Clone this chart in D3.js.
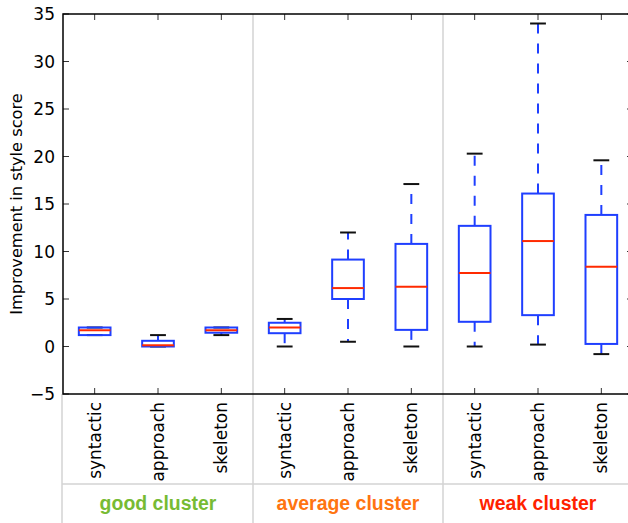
<!DOCTYPE html>
<html>
<head>
<meta charset="utf-8">
<script src="https://cdn.jsdelivr.net/npm/d3@7"></script>
<style>
  body { margin: 0; background: #fff; }
  text { font-family: "DejaVu Sans", sans-serif; }
</style>
</head>
<body>
<svg class="main-graphic"></svg>
<script>
// box stats, one entry per box
var categories = ["syntactic", "approach", "skeleton", "syntactic", "approach", "skeleton", "syntactic", "approach", "skeleton"];
var lows    = [1.2, 0.0, 1.2, 0.0, 0.5, 0.0, 0.0, 0.2, -0.8];
var q1s     = [1.2, 0.0, 1.45, 1.4, 5.0, 1.75, 2.6, 3.3, 0.27];
var medians = [1.7, 0.13, 1.7, 2.0, 6.15, 6.3, 7.75, 11.1, 8.4];
var q3s     = [2.0, 0.6, 2.0, 2.5, 9.15, 10.8, 12.7, 16.1, 13.85];
var highs   = [2.0, 1.2, 2.0, 2.9, 12.0, 17.1, 20.3, 34.0, 19.6];

var groups = ["good cluster", "average cluster", "weak cluster"];
var groupColors = ["#77bb33", "#ff7411", "#ff2200"];
var yTicks = [-5, 0, 5, 10, 15, 20, 25, 30, 35];

var W = 628, H = 523;
var margin = {top: 14, left: 63};
var plotW = 570, plotH = 380;

var svg = d3.select(".main-graphic")
    .attr("width", W)
    .attr("height", H);

var x = d3.scaleLinear().domain([0.5, 9.5]).range([margin.left, margin.left + plotW]);
var y = d3.scaleLinear().domain([-5, 35]).range([margin.top + plotH, margin.top]);

var boxes = categories.map(function(c, i) {
  return {pos: i + 1, lo: lows[i], q1: q1s[i], med: medians[i], q3: q3s[i], hi: highs[i]};
});

var blue = "#1f3fff", red = "#ff2a00", sep = "#d3d3d3";

// separators between the clusters + the label strip under the axis
var x0 = x(0.5), x1 = x(9.5), yb = y(-5);
[3.5, 6.5].forEach(function(p) {
  svg.append("line")
    .attr("x1", x(p)).attr("x2", x(p))
    .attr("y1", y(35)).attr("y2", H)
    .attr("stroke", sep).attr("stroke-width", 1.5);
});
svg.append("line")
  .attr("x1", x0 - 1).attr("x2", x0 - 1)
  .attr("y1", yb).attr("y2", H)
  .attr("stroke", sep).attr("stroke-width", 1.5);
svg.append("line")
  .attr("x1", x0 - 1).attr("x2", W)
  .attr("y1", 484).attr("y2", 484)
  .attr("stroke", sep).attr("stroke-width", 1.5);

svg.selectAll(".group-label")
    .data(groups)
  .enter().append("text")
    .attr("class", "group-label")
    .attr("transform", function(d, i) { return "translate(" + x(i * 3 + 2) + ",510) scale(0.95,1)"; })
    .attr("text-anchor", "middle")
    .style("font-family", "'Liberation Sans', Arial, sans-serif")
    .style("font-weight", "bold")
    .style("font-size", "20.5px")
    .attr("fill", function(d, i) { return groupColors[i]; })
    .text(function(d) { return d; });

// ticks (inward, on all four sides)
var tl = 6;
var tickG = svg.append("g").attr("stroke", "#333").attr("stroke-width", 1);
yTicks.forEach(function(t) {
  tickG.append("line").attr("x1", x0).attr("x2", x0 + tl).attr("y1", y(t)).attr("y2", y(t));
  tickG.append("line").attr("x1", x1).attr("x2", x1 - tl).attr("y1", y(t)).attr("y2", y(t));
});
boxes.forEach(function(b) {
  tickG.append("line").attr("x1", x(b.pos)).attr("x2", x(b.pos)).attr("y1", y(35)).attr("y2", y(35) + tl);
  tickG.append("line").attr("x1", x(b.pos)).attr("x2", x(b.pos)).attr("y1", yb).attr("y2", yb - tl);
});

// boxes: whiskers, caps, box, median
var bw = x(1.25) - x(1), cw = x(1.125) - x(1);
var g = svg.append("g");
boxes.forEach(function(b) {
  var cx = x(b.pos);
  [[b.q3, b.hi], [b.q1, b.lo]].forEach(function(w) {
    if (w[0] === w[1]) return;
    g.append("line")
      .attr("x1", cx).attr("x2", cx)
      .attr("y1", y(w[0])).attr("y2", y(w[1]))
      .attr("stroke", blue).attr("stroke-width", 2)
      .attr("stroke-dasharray", "10,10");
  });
  [b.lo, b.hi].forEach(function(v) {
    g.append("line")
      .attr("x1", cx - cw).attr("x2", cx + cw)
      .attr("y1", y(v)).attr("y2", y(v))
      .attr("stroke", "#111").attr("stroke-width", 2);
  });
  g.append("rect")
    .attr("x", cx - bw).attr("y", y(b.q3))
    .attr("width", 2 * bw).attr("height", y(b.q1) - y(b.q3))
    .attr("fill", "none").attr("stroke", blue).attr("stroke-width", 2);
  g.append("line")
    .attr("x1", cx - bw).attr("x2", cx + bw)
    .attr("y1", y(b.med)).attr("y2", y(b.med))
    .attr("stroke", red).attr("stroke-width", 2);
});

// frame (right spine falls just off the canvas)
svg.append("rect")
  .attr("x", x0).attr("y", y(35))
  .attr("width", plotW).attr("height", plotH)
  .attr("fill", "none").attr("stroke", "#000").attr("stroke-width", 1.5);

// tick labels
svg.selectAll(".ytick")
    .data(yTicks)
  .enter().append("text")
    .attr("class", "ytick")
    .attr("x", x0 - 8)
    .attr("y", function(d) { return y(d); })
    .attr("dy", "0.36em")
    .attr("text-anchor", "end")
    .style("font-size", "17px")
    .text(function(d) { return d < 0 ? "\u2212" + Math.abs(d) : d; });

svg.selectAll(".xtick")
    .data(boxes)
  .enter().append("text")
    .attr("class", "xtick")
    .attr("transform", function(d) { return "translate(" + x(d.pos) + "," + (yb + 8) + ") rotate(-90)"; })
    .attr("dy", "0.36em")
    .attr("text-anchor", "end")
    .style("font-size", "17px")
    .text(function(d, i) { return categories[i]; });

svg.append("text")
  .attr("transform", "translate(16," + (y(15)) + ") rotate(-90)")
  .attr("dy", "0.36em")
  .attr("text-anchor", "middle")
  .style("font-size", "16.2px")
  .text("Improvement in style score");
</script>
</body>
</html>
